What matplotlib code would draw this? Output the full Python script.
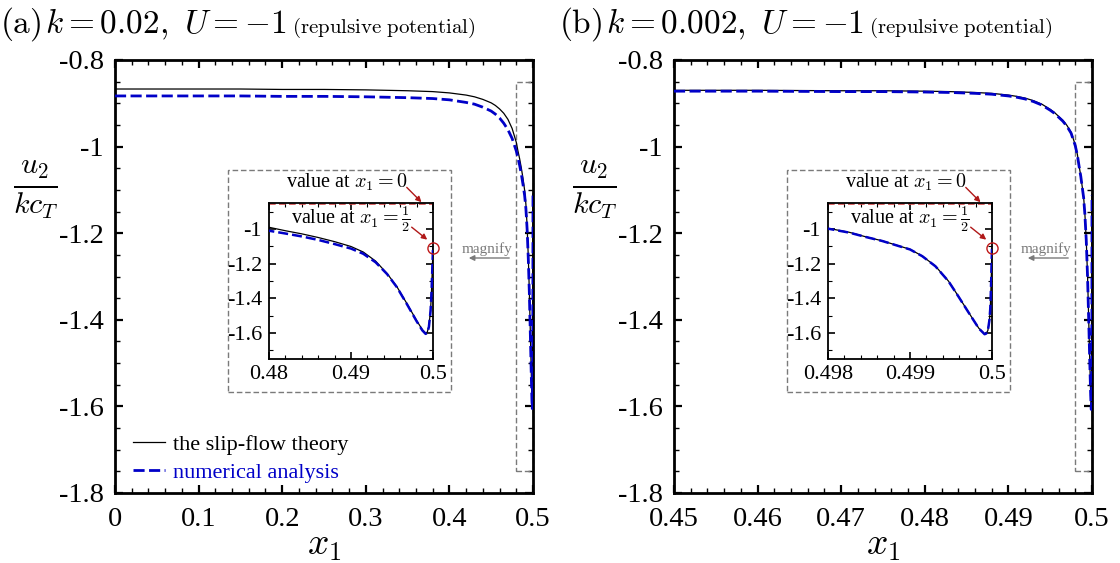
import numpy as np
import matplotlib
matplotlib.use("Agg")
import matplotlib.pyplot as plt
from matplotlib.ticker import MultipleLocator, FuncFormatter
from matplotlib.patches import Rectangle, FancyArrowPatch

plt.rcParams["font.family"] = ["Liberation Serif", "DejaVu Serif"]
plt.rcParams["mathtext.fontset"] = "cm"

# ---------------- data ----------------
# panel (a): k = 0.02
x_a = [0.0, 0.05, 0.1, 0.15, 0.2, 0.25, 0.3, 0.35, 0.38, 0.4, 0.42, 0.43, 0.44,
       0.45, 0.455, 0.46, 0.465, 0.47, 0.475, 0.48, 0.482, 0.484, 0.486, 0.488,
       0.49, 0.4915, 0.493, 0.4944, 0.4956, 0.4968, 0.498, 0.4987, 0.4991,
       0.4993, 0.4995, 0.4997, 0.4998, 0.4999, 0.5]
slip_a = [-0.867, -0.867, -0.867, -0.867, -0.868, -0.868, -0.869, -0.871, -0.873,
          -0.876, -0.881, -0.885, -0.891, -0.899, -0.905, -0.913, -0.923, -0.937,
          -0.958, -0.990, -1.010, -1.028, -1.049, -1.073, -1.101, -1.133, -1.185,
          -1.257, -1.333, -1.429, -1.528, -1.581, -1.600, -1.595, -1.560, -1.470,
          -1.380, -1.250, -1.109]
num_a = [-0.883, -0.883, -0.883, -0.883, -0.884, -0.884, -0.885, -0.887, -0.889,
         -0.892, -0.898, -0.902, -0.909, -0.918, -0.925, -0.934, -0.946, -0.961,
         -0.981, -1.010, -1.026, -1.043, -1.063, -1.087, -1.113, -1.143, -1.192,
         -1.260, -1.336, -1.432, -1.532, -1.585, -1.605, -1.600, -1.565, -1.475,
         -1.385, -1.255, -1.112]

# panel (b): k = 0.002
x_b = [0.45, 0.46, 0.47, 0.475, 0.48, 0.483, 0.486, 0.488, 0.49, 0.491, 0.492,
       0.493, 0.494, 0.495, 0.4955, 0.496, 0.4965, 0.497, 0.4975, 0.498, 0.49826,
       0.49846, 0.49866, 0.49886, 0.499, 0.49915, 0.49931, 0.49947, 0.49959,
       0.49972, 0.49984, 0.49991, 0.49993, 0.49995, 0.49997, 0.49998, 0.49999, 0.5]
slip_b = [-0.870, -0.870, -0.871, -0.871, -0.872, -0.873, -0.875, -0.877, -0.881,
          -0.884, -0.888, -0.894, -0.902, -0.914, -0.921, -0.930, -0.939, -0.951,
          -0.967, -0.996, -1.019, -1.045, -1.068, -1.097, -1.117, -1.156, -1.214,
          -1.301, -1.388, -1.485, -1.573, -1.606, -1.602, -1.585, -1.520, -1.450,
          -1.300, -1.111]
num_b = [-0.872, -0.872, -0.873, -0.873, -0.874, -0.875, -0.877, -0.879, -0.883,
         -0.886, -0.890, -0.896, -0.904, -0.916, -0.923, -0.932, -0.941, -0.953,
         -0.969, -0.998, -1.021, -1.046, -1.069, -1.098, -1.118, -1.157, -1.215,
         -1.302, -1.389, -1.486, -1.574, -1.607, -1.603, -1.586, -1.521, -1.451,
         -1.301, -1.112]

value_x0 = [-0.856, -0.856]     # u2/(k cT) at x1 = 0 (shown in the insets)
value_half = [-1.109, -1.111]   # u2/(k cT) at x1 = 1/2

panel_tags = ["(a)", "(b)"]
k_labels = ["0.02", "0.002"]
main_xlim = [(0.0, 0.5), (0.45, 0.5)]
main_xmajor = [0.1, 0.01]
main_xminor = [0.02, 0.002]
inset_xlim = [(0.48, 0.5), (0.498, 0.5)]
inset_xmajor = [0.01, 0.001]
inset_xminor = [0.002, 0.0002]
series_x = [x_a, x_b]
series_slip = [slip_a, slip_b]
series_num = [num_a, num_b]

# ---------------- figure ----------------
W, H = 1120, 563
fig = plt.figure(figsize=(W / 100, H / 100), dpi=100)
renderer = fig.canvas.get_renderer()


def rect(l, t, r, b):
    return [l / W, 1 - b / H, (r - l) / W, (b - t) / H]


BLUE = "#0000c8"
DRED = "#b01818"
LRED = "#d04848"
GRAY = "#7a7a7a"


def fmt(v, pos):
    return "%g" % round(v, 6)


def chain_text(x_px, y_px, pieces):
    """Place text pieces one after another on a common baseline."""
    for s, size, gap in pieces:
        t = fig.text(x_px / W, 1 - y_px / H, s, fontsize=size, ha="left",
                     va="baseline")
        x_px = t.get_window_extent(renderer).x1 + gap


for i in range(2):
    dx = 0 if i == 0 else 559
    ax = fig.add_axes(rect(115 + dx, 60, 533 + dx, 493))
    x = series_x[i]
    ax.plot(x, series_slip[i], color="black", lw=0.9, zorder=3,
            label="the slip-flow theory")
    ax.plot(x, series_num[i], color=BLUE, lw=2.0, ls=(0, (4, 1.6)), zorder=4,
            label="numerical analysis")
    ax.set_xlim(*main_xlim[i])
    ax.set_ylim(-1.8, -0.8)
    ax.xaxis.set_major_locator(MultipleLocator(main_xmajor[i]))
    ax.xaxis.set_minor_locator(MultipleLocator(main_xminor[i]))
    ax.yaxis.set_major_locator(MultipleLocator(0.2))
    ax.yaxis.set_minor_locator(MultipleLocator(0.05))
    ax.xaxis.set_major_formatter(FuncFormatter(fmt))
    ax.yaxis.set_major_formatter(FuncFormatter(fmt))
    ax.tick_params(which="both", direction="in", top=True, right=True)
    ax.tick_params(which="major", length=6, width=1.6, labelsize=20.5)
    ax.tick_params(which="minor", length=3.5, width=1.0)
    ax.tick_params(axis="x", which="major", pad=10)
    ax.tick_params(axis="y", which="major", pad=8)
    for sp in ax.spines.values():
        sp.set_linewidth(2.0)

    # region that the inset magnifies
    x0, x1 = inset_xlim[i]
    ax.add_patch(Rectangle((x0, -1.75), x1 - x0, 0.9, fill=False,
                           ec=GRAY, lw=1.0, ls=(0, (4, 2)), zorder=2,
                           clip_on=False))

    # inset frame (white, dashed)
    ax.add_patch(Rectangle(((228 + dx) / W, 1 - 392 / H), 223 / W, 222 / H,
                           transform=fig.transFigure, fc="white", ec=GRAY,
                           lw=1.0, ls=(0, (4, 2)), zorder=6, clip_on=False))

    # magnify arrow
    fig.text((487 + dx) / W, 1 - 249 / H, "magnify", color=GRAY, fontsize=11,
             ha="center", va="center")
    fig.add_artist(FancyArrowPatch(((512 + dx) / W, 1 - 258 / H),
                                   ((466 + dx) / W, 1 - 258 / H),
                                   transform=fig.transFigure, arrowstyle="-|>",
                                   mutation_scale=8, color=GRAY, lw=1.0))

    # axis labels
    fig.text((324 + dx) / W, 1 - 546 / H, r"$x_1$", fontsize=27,
             ha="center", va="center")
    fig.text((36 + dx) / W, 1 - 190 / H, r"$\frac{u_2}{kc_T}$", fontsize=31,
             ha="center", va="center")

    # panel title
    chain_text(0 + dx, 33, [
        (r"$\mathrm{%s}$" % panel_tags[i], 24, 4),
        (r"$k=%s,\ U=-1$" % k_labels[i], 24, 5),
        (r"$\mathrm{(repulsive\ potential)}$", 15, 0),
    ])

    if i == 0:
        ax.legend(loc="lower left", bbox_to_anchor=(0.022, 0.002),
                  frameon=False, fontsize=16, handlelength=1.45,
                  handletextpad=0.35, labelspacing=0.35,
                  borderaxespad=0.0, labelcolor=["black", BLUE])

    # ---------------- inset ----------------
    ai = fig.add_axes(rect(269 + dx, 203, 433 + dx, 359))
    ai.set_zorder(5)
    ai.plot(x, series_slip[i], color="black", lw=0.9, zorder=3)
    ai.plot(x, series_num[i], color=BLUE, lw=1.8, ls=(0, (4, 1.6)), zorder=4)
    ai.axhline(value_x0[i], color=LRED, lw=1.2, ls=(0, (4, 2)), zorder=2)
    ai.plot([0.5], [value_half[i]], marker="o", mfc="none", mec="#c01818",
            mew=1.0, ms=8, clip_on=False, zorder=6)
    ai.set_xlim(x0, x1)
    ai.set_ylim(-1.75, -0.85)
    ai.xaxis.set_major_locator(MultipleLocator(inset_xmajor[i]))
    ai.xaxis.set_minor_locator(MultipleLocator(inset_xminor[i]))
    ai.yaxis.set_major_locator(MultipleLocator(0.2))
    ai.yaxis.set_minor_locator(MultipleLocator(0.1))
    ai.xaxis.set_major_formatter(FuncFormatter(fmt))
    ai.yaxis.set_major_formatter(FuncFormatter(fmt))
    ai.tick_params(which="both", direction="in", top=True, right=True)
    ai.tick_params(which="major", length=5, width=1.2, labelsize=16)
    ai.tick_params(which="minor", length=3, width=0.8)
    ai.tick_params(axis="x", which="major", pad=4)
    ai.tick_params(axis="y", which="major", pad=5)
    for sp in ai.spines.values():
        sp.set_linewidth(1.3)

    ai.text(0.476, 1.13, r"value at $x_1=0$", transform=ai.transAxes,
            fontsize=14.5, ha="center", va="center")
    ai.annotate("", xy=(0.93, 1.005), xytext=(0.84, 1.10),
                xycoords="axes fraction", textcoords="axes fraction",
                arrowprops=dict(arrowstyle="-|>", color=DRED, lw=1.0,
                                mutation_scale=8, shrinkA=0, shrinkB=0),
                annotation_clip=False)
    ai.text(0.5, 0.895, r"value at $x_1=\frac{1}{2}$", transform=ai.transAxes,
            fontsize=14.5, ha="center", va="center")
    ai.annotate("", xy=(0.965, 0.765), xytext=(0.87, 0.845),
                xycoords="axes fraction", textcoords="axes fraction",
                arrowprops=dict(arrowstyle="-|>", color=DRED, lw=1.0,
                                mutation_scale=8, shrinkA=0, shrinkB=0),
                annotation_clip=False)

fig.savefig("out.png", dpi=100)
